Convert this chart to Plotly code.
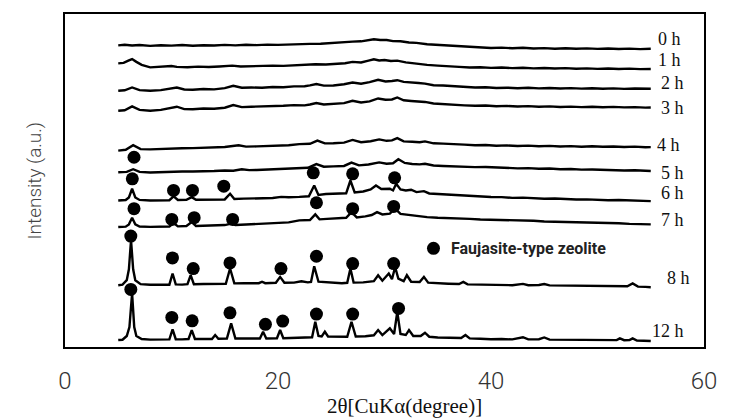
import plotly.graph_objects as go

# ---- data: XRD patterns (2theta in degrees, stacked intensity in a.u.) ----
pattern_0h = [(5.0,302.5),(5.6,303.2),(6.3,302.4),(7.0,302.9),(8.0,302.0),(9.0,302.6),(10.0,302.3),(11.0,302.9),(12.0,302.1),(13.0,302.7),(14.0,302.4),(15.0,303.0),(16.0,302.5),(17.0,303.1),(18.0,302.8),(19.0,303.3),(20.0,303.0),(21.0,303.5),(22.0,303.4),(23.0,304.0),(24.0,304.1),(25.0,305.0),(26.0,305.3),(27.0,306.3),(27.8,306.6),(28.5,308.0),(29.0,308.7),(29.6,307.9),(30.2,307.9),(30.8,306.8),(31.5,306.6),(32.3,305.4),(33.0,305.0),(34.0,303.6),(35.0,303.0),(36.0,301.8),(37.0,301.3),(38.0,300.5),(39.0,300.6),(40.0,299.9),(41.0,300.3),(42.0,299.6),(43.0,300.1),(44.0,299.4),(45.0,299.8),(46.0,299.2),(47.0,299.7),(48.0,299.1),(49.0,299.5),(50.0,299.0),(51.0,299.4),(52.0,298.9),(53.0,299.3),(54.0,298.8),(55.0,299.1)]
pattern_1h = [(5.0,284.5),(5.5,285.0),(6.0,287.5),(6.3,288.8),(6.7,286.0),(7.2,283.0),(8.0,280.5),(9.0,281.0),(10.0,281.8),(10.5,281.0),(11.5,280.6),(12.5,281.2),(13.5,280.8),(14.5,281.4),(15.7,282.2),(16.5,281.3),(17.5,281.8),(18.5,281.6),(19.5,282.2),(20.5,282.0),(21.5,282.6),(22.5,282.7),(23.5,283.6),(24.5,283.4),(25.5,284.3),(26.3,284.6),(27.0,286.0),(27.8,285.4),(28.5,287.2),(29.0,288.6),(29.5,287.4),(30.0,287.8),(30.6,286.8),(31.2,287.2),(32.0,285.5),(33.0,284.0),(34.0,283.0),(35.0,282.2),(36.0,281.3),(37.0,281.0),(38.0,280.3),(39.0,280.6),(40.0,280.0),(41.0,280.4),(42.0,279.7),(43.0,280.1),(44.0,279.5),(45.0,279.9),(46.0,279.3),(47.0,279.7),(48.0,279.1),(49.0,279.5),(50.0,279.0),(51.0,279.4),(52.0,278.9),(53.0,279.2),(54.0,278.7),(55.0,278.8)]
pattern_2h = [(5.0,257.0),(5.6,257.5),(6.3,260.3),(7.0,257.6),(8.0,257.0),(9.0,257.6),(10.5,260.3),(11.2,258.3),(12.0,258.0),(13.0,258.8),(14.0,258.4),(15.0,259.6),(15.8,262.0),(16.6,260.0),(17.5,260.3),(18.5,260.0),(19.5,260.8),(20.5,260.6),(21.5,261.4),(22.5,261.5),(23.0,262.4),(23.6,263.7),(24.3,262.2),(25.2,262.3),(26.2,263.5),(27.0,265.3),(27.8,264.0),(28.6,265.6),(29.4,268.0),(30.1,266.3),(30.7,266.8),(31.2,267.6),(31.8,265.9),(32.5,265.0),(33.2,264.8),(33.8,264.2),(34.6,262.6),(35.5,262.3),(36.6,261.4),(37.5,260.8),(38.5,260.3),(39.5,260.5),(40.5,259.8),(41.5,260.1),(42.5,259.6),(43.5,260.0),(44.5,259.4),(45.5,259.8),(46.5,259.3),(47.5,259.7),(48.5,259.2),(49.5,259.6),(50.5,259.1),(51.5,259.4),(52.5,258.9),(53.5,259.3),(54.5,258.9),(55.0,259.0)]
pattern_3h = [(5.0,237.0),(5.6,237.5),(6.3,241.3),(7.0,237.8),(8.0,237.0),(9.0,237.8),(10.5,241.0),(11.2,238.6),(12.0,238.5),(13.0,239.2),(14.0,239.0),(15.0,240.0),(15.8,242.7),(16.6,240.6),(17.5,241.0),(18.5,241.2),(19.5,241.8),(20.5,241.9),(21.5,242.6),(22.5,242.4),(23.0,243.2),(23.6,244.7),(24.3,243.3),(25.2,243.6),(26.2,244.6),(27.0,247.0),(27.8,245.3),(28.6,246.4),(29.4,249.3),(30.1,248.0),(30.7,248.3),(31.2,250.3),(31.8,247.5),(32.5,246.8),(33.2,246.4),(33.8,245.8),(34.6,244.2),(35.5,243.5),(36.6,243.0),(37.5,242.4),(38.5,242.0),(39.5,242.2),(40.5,241.5),(41.5,241.8),(42.5,241.2),(43.5,241.6),(44.5,241.0),(45.5,241.3),(46.5,240.7),(47.5,241.1),(48.5,240.6),(49.5,240.9),(50.5,240.4),(51.5,240.8),(52.5,240.3),(53.5,240.6),(54.5,240.1),(55.0,240.2)]
pattern_4h = [(5.0,197.0),(5.7,197.8),(6.4,202.5),(7.1,198.5),(8.0,198.2),(9.0,198.8),(10.0,198.7),(11.0,199.3),(12.0,199.5),(13.0,199.9),(14.0,199.7),(15.0,200.6),(16.3,202.3),(17.0,201.0),(18.0,201.2),(19.0,201.5),(20.0,202.2),(21.0,202.4),(22.0,203.5),(23.0,203.8),(23.7,207.0),(24.4,204.2),(25.2,204.3),(26.2,205.0),(27.0,207.7),(27.8,205.4),(28.7,206.4),(29.5,208.2),(30.2,206.8),(30.7,207.2),(31.2,209.5),(31.8,206.2),(32.6,205.9),(33.3,205.4),(33.8,206.2),(34.6,204.3),(35.5,204.0),(36.5,203.2),(37.5,203.0),(38.5,202.4),(39.5,202.6),(40.5,201.9),(41.5,202.2),(42.5,201.6),(43.5,202.0),(44.5,201.4),(45.5,201.7),(46.5,201.1),(47.5,201.5),(48.5,200.9),(49.5,201.3),(50.5,200.8),(51.5,201.1),(52.5,200.6),(53.5,201.0),(54.5,200.4),(55.0,200.5)]
pattern_5h = [(5.0,175.3),(5.8,175.6),(6.4,178.3),(7.0,175.6),(8.0,175.0),(9.0,175.6),(10.0,175.5),(11.0,176.1),(12.0,176.0),(13.0,176.6),(14.0,176.5),(15.0,177.0),(15.8,176.8),(16.6,178.3),(17.3,177.4),(18.0,177.5),(19.0,178.0),(20.0,178.5),(21.0,178.7),(22.0,179.5),(22.8,179.8),(23.6,183.5),(24.3,180.8),(25.2,181.2),(26.2,181.6),(26.9,185.0),(27.6,182.2),(28.5,183.0),(29.5,185.2),(30.2,183.8),(30.8,184.3),(31.3,188.3),(31.9,184.6),(32.6,183.6),(33.3,183.2),(33.8,183.8),(34.6,182.0),(35.5,181.6),(36.5,181.0),(37.5,180.8),(38.5,180.4),(39.5,180.6),(40.5,179.9),(41.5,179.8),(42.5,179.2),(43.5,179.4),(44.5,178.8),(45.5,179.0),(46.5,178.3),(47.5,178.5),(48.5,177.9),(49.5,178.1),(50.5,177.6),(51.5,177.7),(52.5,177.1),(53.5,177.3),(54.5,176.8),(55.0,176.6)]
pattern_6h = [(5.0,147.0),(5.7,147.4),(6.0,150.0),(6.3,158.7),(6.6,150.0),(7.0,147.5),(8.0,147.0),(9.0,147.5),(9.8,147.2),(10.2,151.0),(10.6,147.4),(11.4,147.6),(11.9,150.3),(12.3,147.7),(13.0,147.9),(14.0,148.2),(15.0,148.0),(15.5,153.7),(15.9,148.4),(16.8,148.8),(17.8,149.0),(18.6,149.6),(19.5,149.4),(20.3,150.6),(21.0,150.2),(22.0,150.6),(22.9,151.2),(23.4,162.0),(23.8,152.5),(24.5,153.4),(25.5,153.7),(26.4,154.2),(26.8,167.0),(27.2,155.0),(28.0,156.0),(28.7,158.0),(29.2,162.0),(29.7,158.5),(30.5,158.7),(30.8,157.0),(31.1,163.7),(31.5,158.0),(32.0,157.0),(32.5,157.7),(33.0,155.4),(33.7,156.3),(34.2,154.0),(35.0,153.5),(36.0,152.8),(37.0,152.0),(38.0,151.6),(39.0,151.2),(40.0,150.5),(41.0,150.3),(42.0,149.6),(43.0,149.8),(44.0,149.1),(45.0,148.7),(46.0,148.9),(47.0,148.2),(48.0,148.0),(49.0,148.1),(50.0,147.5),(51.0,147.2),(52.0,147.4),(53.0,146.8),(54.0,146.7),(55.0,146.3)]
pattern_7h = [(5.0,120.3),(5.7,120.7),(6.0,123.0),(6.3,129.7),(6.6,123.0),(7.0,120.8),(8.0,120.5),(9.0,121.0),(9.8,120.9),(10.2,124.3),(10.6,121.0),(11.4,121.3),(11.9,125.3),(12.3,121.4),(13.0,121.8),(14.0,122.0),(15.0,122.3),(15.6,123.7),(16.0,122.4),(17.0,122.8),(18.0,123.2),(19.0,123.7),(20.0,124.6),(21.0,125.0),(22.0,127.0),(23.0,127.4),(23.5,133.0),(23.9,128.0),(24.6,128.5),(25.5,128.8),(26.4,129.6),(26.9,135.3),(27.4,130.0),(28.2,131.0),(28.8,132.4),(29.3,135.3),(29.8,133.0),(30.5,133.8),(31.0,138.7),(31.5,133.5),(32.2,132.6),(33.0,131.4),(34.0,130.3),(35.0,129.6),(36.0,129.4),(37.0,128.6),(38.0,128.5),(39.0,127.9),(40.0,127.7),(41.0,127.2),(42.0,127.0),(43.0,126.5),(44.0,126.6),(45.0,125.9),(46.0,125.7),(47.0,125.2),(48.0,125.3),(49.0,124.6),(50.0,124.5),(51.0,124.0),(52.0,124.1),(53.0,123.5),(54.0,123.4),(55.0,123.0)]
pattern_8h = [(5.0,62.0),(5.4,62.5),(5.8,67.0),(6.0,78.0),(6.2,107.0),(6.4,78.0),(6.6,67.0),(7.1,63.0),(8.0,62.4),(9.0,62.8),(9.8,62.5),(10.1,73.7),(10.4,62.8),(11.0,62.6),(11.5,63.0),(11.8,72.0),(12.1,63.0),(13.0,63.2),(14.0,63.6),(15.1,63.4),(15.5,78.7),(15.9,63.8),(16.8,64.0),(17.8,64.2),(18.2,64.0),(18.5,65.5),(18.8,64.0),(19.8,64.4),(20.2,70.3),(20.6,64.5),(21.5,64.6),(22.2,66.0),(22.8,64.8),(23.1,65.2),(23.4,81.0),(23.8,65.5),(24.4,65.0),(25.0,64.2),(26.0,64.0),(26.5,64.4),(26.8,78.7),(27.1,64.6),(28.0,64.8),(29.0,66.0),(29.4,72.0),(29.8,66.5),(30.4,73.7),(30.7,68.0),(31.0,80.3),(31.3,68.5),(31.8,66.0),(32.1,72.0),(32.5,65.5),(33.3,65.2),(33.7,70.3),(34.1,64.5),(35.0,63.7),(36.0,63.5),(37.0,63.2),(37.4,65.3),(37.8,62.8),(39.0,62.5),(40.0,62.3),(41.0,62.6),(42.0,62.0),(43.0,63.3),(43.5,62.0),(44.5,62.2),(45.0,63.2),(45.5,61.8),(47.0,61.6),(48.0,61.9),(49.0,61.4),(50.0,61.5),(51.0,61.0),(52.0,61.2),(52.8,60.9),(53.3,63.7),(53.8,60.6),(54.5,60.3),(55.0,60.0)]
pattern_12h = [(5.0,7.0),(5.4,7.3),(5.8,11.0),(6.05,20.0),(6.3,53.7),(6.5,20.0),(6.7,11.0),(7.2,8.0),(8.0,7.4),(9.0,7.8),(9.8,7.6),(10.1,17.7),(10.4,7.8),(11.0,7.6),(11.6,8.0),(11.9,17.0),(12.2,8.0),(13.0,8.1),(13.8,8.0),(14.1,12.0),(14.4,8.2),(15.2,8.4),(15.6,23.7),(16.0,8.5),(17.0,8.4),(18.0,8.6),(18.3,8.5),(18.6,15.3),(18.9,8.6),(19.9,8.8),(20.2,17.0),(20.5,8.8),(21.5,8.9),(22.5,9.4),(23.2,9.8),(23.5,25.3),(23.8,11.0),(24.1,10.5),(24.4,15.3),(24.7,10.5),(25.5,10.2),(26.5,10.3),(26.9,25.3),(27.3,10.5),(28.2,10.8),(29.0,11.8),(29.4,17.0),(29.8,12.0),(30.5,18.7),(30.9,13.0),(31.2,35.3),(31.5,13.0),(32.0,12.0),(32.3,17.0),(32.7,11.0),(33.4,11.0),(33.8,14.3),(34.2,10.3),(35.0,9.5),(36.0,9.2),(37.2,9.0),(37.6,12.0),(38.0,8.6),(39.0,8.2),(40.0,7.7),(41.0,8.0),(42.0,7.6),(43.0,9.8),(43.5,7.6),(44.5,7.8),(45.0,9.6),(45.5,7.4),(47.0,7.2),(48.0,7.5),(49.0,7.0),(50.0,7.2),(51.0,6.8),(51.8,6.9),(52.1,8.7),(52.5,6.8),(53.0,6.9),(53.3,8.7),(53.7,6.5),(54.5,6.2),(55.0,6.0)]

# Faujasite-type zeolite peak markers (2theta, intensity)
fau_5h = [(6.48,190.3)]
fau_6h = [(6.32,168.7),(10.19,157.0),(11.97,157.0),(14.91,161.3),(23.31,174.7),(27.01,173.7),(30.95,169.7)]
fau_7h = [(6.48,138.7),(10.03,128.0),(12.13,129.7),(15.74,128.0),(23.61,144.7),(27.01,138.7),(30.86,141.0)]
fau_8h = [(6.18,111.3),(10.09,89.3),(12.04,78.7),(15.49,84.3),(20.28,78.7),(23.61,91.0),(27.01,83.7),(30.86,83.7)]
fau_12h = [(6.18,57.7),(10.03,29.7),(11.94,26.3),(15.49,34.3),(18.82,22.7),(20.44,26.0),(23.61,33.0),(27.01,33.0),(31.32,38.7)]

sample_labels = ["0 h", "1 h", "2 h", "3 h", "4 h", "5 h", "6 h", "7 h", "8 h", "12 h"]
label_theta = [55.5, 55.5, 55.8, 55.8, 55.4, 55.8, 55.8, 55.8, 56.3, 54.9]
label_int = [309, 288, 265, 240, 203, 175, 154, 127, 69, 16]

legend_text = "Faujasite-type zeolite"
legend_pos = (34.6, 99.0)

x_ticks = [0, 20, 40, 60]

patterns = [pattern_0h, pattern_1h, pattern_2h, pattern_3h, pattern_4h,
            pattern_5h, pattern_6h, pattern_7h, pattern_8h, pattern_12h]
markers = [fau_5h, fau_6h, fau_7h, fau_8h, fau_12h]

fig = go.Figure()
for pat in patterns:
    fig.add_trace(go.Scatter(x=[p[0] for p in pat], y=[p[1] for p in pat],
                             mode="lines", line=dict(color="black", width=2.4),
                             showlegend=False, hoverinfo="skip"))
for mk in markers + [[legend_pos]]:
    fig.add_trace(go.Scatter(x=[p[0] for p in mk], y=[p[1] for p in mk],
                             mode="markers", marker=dict(color="black", size=13),
                             showlegend=False, hoverinfo="skip"))

for lab, lx, ly in zip(sample_labels, label_theta, label_int):
    fig.add_annotation(x=lx, y=ly, text=lab, showarrow=False, xanchor="left",
                       yanchor="middle",
                       font=dict(family="Liberation Serif", size=18, color="#111"))

fig.add_annotation(x=legend_pos[0] + 1.5, y=legend_pos[1], text=legend_text, showarrow=False,
                   xanchor="left", yanchor="middle",
                   font=dict(family="Roboto", size=16, color="#222", weight="bold"))

fig.add_annotation(xref="paper", yref="paper", x=0.531, y=0, yshift=-59,
                   text="2θ[CuKα(degree)]", showarrow=False, xanchor="center", yanchor="middle",
                   font=dict(family="Liberation Serif", size=21, color="#111"))
fig.add_annotation(xref="paper", yref="paper", x=0, xshift=-31, y=0.5,
                   text="Intensity (a.u.)", showarrow=False, textangle=-90,
                   xanchor="center", yanchor="middle",
                   font=dict(family="Roboto", size=19, color="#444", weight=300))

fig.update_layout(
    width=729, height=420,
    margin=dict(l=65, r=16, t=13, b=73),
    plot_bgcolor="white", paper_bgcolor="white",
    xaxis=dict(range=[0, 60], tickvals=x_ticks, ticks="outside", ticklen=11,
               tickcolor="rgba(0,0,0,0)", showgrid=False, zeroline=False,
               showline=True, linecolor="black", linewidth=2, mirror=True,
               tickfont=dict(family="Roboto", size=24, color="#333", weight=300)),
    yaxis=dict(range=[0, 334], showticklabels=False, ticks="", showgrid=False,
               zeroline=False, showline=True, linecolor="black", linewidth=2, mirror=True),
)

fig.write_html("out.html")
